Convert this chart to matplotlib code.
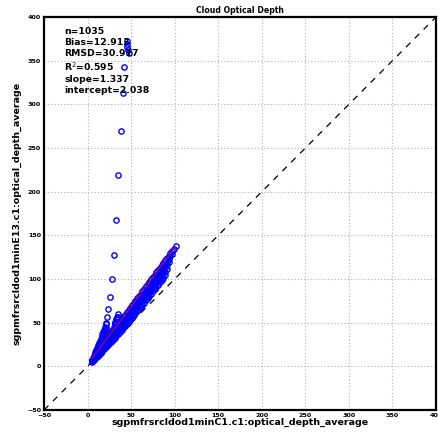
import matplotlib
matplotlib.use("Agg")
import matplotlib.pyplot as plt
import numpy as np

# ---- data ----
band_x_top = [5, 7, 9, 11, 13, 15, 17, 19, 21, 23, 25, 27, 29, 31, 33, 35, 37, 39, 41, 43, 45, 47, 49, 51, 53,
              55, 57, 59, 61, 63, 65, 67, 69, 71, 73, 75, 77, 79, 81, 83, 85, 87, 89, 91, 93, 95, 97, 99, 101]
band_y_top = [7.8, 10.5, 13.2, 15.9, 18.6, 21.3, 24.0, 26.7, 29.4, 32.1, 34.8, 37.5, 40.2, 42.9, 45.6, 48.3, 51.0,
              53.7, 56.4, 59.1, 61.8, 64.5, 67.2, 69.9, 72.6, 75.3, 78.0, 80.7, 83.4, 86.1, 88.8, 91.5, 94.2, 96.9,
              99.6, 102.3, 105.0, 107.7, 110.4, 113.1, 115.8, 118.5, 121.2, 123.9, 126.6, 129.3, 132.0, 134.7, 137.4]

band_x_m1 = [5, 7, 9, 11, 13, 15, 17, 19, 21, 23, 25, 27, 29, 31, 33, 35, 37, 39, 41, 43, 45, 47, 49, 51, 53,
             55, 57, 59, 61, 63, 65, 67, 69, 71, 73, 75, 77, 79, 81, 83, 85, 87, 89, 91, 93, 95, 97]
band_y_m1 = [7.1, 9.7, 12.2, 14.7, 17.3, 19.8, 22.4, 24.9, 27.5, 30.1, 32.7, 35.2, 37.8, 40.4, 43.0, 45.6, 48.2,
             50.8, 53.4, 56.0, 58.6, 61.2, 63.8, 66.4, 69.0, 71.7, 74.3, 76.9, 79.6, 82.2, 84.9, 87.5, 90.2, 92.8,
             95.5, 98.1, 100.8, 103.5, 106.2, 108.9, 111.5, 114.2, 116.9, 120.0, 123.0, 126.0, 129.0]

band_x_m2 = [5, 7, 9, 11, 13, 15, 17, 19, 21, 23, 25, 27, 29, 31, 33, 35, 37, 39, 41, 43, 45, 47, 49, 51, 53,
             55, 57, 59, 61, 63, 65, 67, 69, 71, 73, 75, 77, 79, 81, 83, 85, 87, 89, 91, 93]
band_y_m2 = [6.5, 8.8, 11.2, 13.6, 15.9, 18.4, 20.8, 23.2, 25.6, 28.1, 30.5, 33.0, 35.4, 37.9, 40.4, 42.8, 45.3,
             47.8, 50.3, 52.8, 55.4, 57.9, 60.4, 62.9, 65.5, 68.1, 70.6, 73.2, 75.8, 78.3, 80.9, 83.5, 86.2, 88.8,
             91.4, 94.0, 96.7, 99.3, 102.0, 104.6, 107.3, 110.0, 112.7, 116.5, 120.0]

band_x_m3 = [5, 7, 9, 11, 13, 15, 17, 19, 21, 23, 25, 27, 29, 31, 33, 35, 37, 39, 41, 43, 45, 47, 49, 51, 53,
             55, 57, 59, 61, 63, 65, 67, 69, 71, 73, 75, 77, 79, 81, 83, 85, 87, 89, 91]
band_y_m3 = [5.8, 8.0, 10.2, 12.4, 14.6, 16.9, 19.2, 21.5, 23.7, 26.0, 28.4, 30.7, 33.0, 35.3, 37.7, 40.1, 42.5,
             44.9, 47.3, 49.7, 52.1, 54.5, 57.0, 59.4, 61.9, 64.4, 66.9, 69.4, 71.9, 74.4, 77.0, 79.5, 82.1, 84.7,
             87.2, 89.9, 92.5, 95.1, 97.7, 100.4, 103.0, 105.7, 108.4, 112.0]

band_x_low = [5, 7, 9, 11, 13, 15, 17, 19, 21, 23, 25, 27, 29, 31, 33, 35, 37, 39, 41, 43, 45, 47, 49, 51, 53,
              55, 57, 59, 61, 63, 65, 67, 69, 71, 73, 75, 77, 79, 81, 83, 85, 87, 89]
band_y_low = [5.1, 7.1, 9.2, 11.2, 13.3, 15.4, 17.6, 19.7, 21.8, 24.0, 26.2, 28.4, 30.6, 32.8, 35.1, 37.3, 39.6,
              41.9, 44.2, 46.5, 48.9, 51.2, 53.6, 55.9, 58.3, 60.8, 63.2, 65.6, 68.1, 70.5, 73.0, 75.5, 78.1, 80.6,
              83.1, 85.7, 88.3, 90.9, 93.5, 96.1, 98.7, 101.4, 104.1]

finger1_x = [6, 7, 8, 9, 10, 11, 12, 13, 14, 15, 16, 17, 18, 19, 20, 21]
finger1_y = [9, 11.5, 14, 16.5, 19, 21.5, 24, 26.5, 29, 31.5, 34, 36.5, 39, 41.5, 44.5, 48]
finger1b_x = [8, 10, 12, 14, 16, 18, 20, 22]
finger1b_y = [10.5, 15, 19.5, 24, 28.5, 33, 37.5, 43]
finger1c_x = [7, 9, 11, 13, 15, 17, 19, 21]
finger1c_y = [9.8, 14.6, 19.4, 24.2, 29.0, 33.8, 38.6, 43.4]
finger2_x = [27, 28, 29, 30, 31, 32, 33, 34, 35]
finger2_y = [36, 39, 42, 45, 48, 51, 54, 57, 60]
finger2b_x = [28, 29, 30, 31, 32, 33, 34, 35]
finger2b_y = [36, 39, 42, 45, 48, 51, 54, 57]

outlier_x = [45, 45, 45, 46, 47, 42, 41, 38, 35, 33, 30, 28, 26, 24, 22, 21]
outlier_y = [373, 369, 366, 362, 359, 343, 313, 270, 219, 167, 128, 100, 79, 66, 56, 50]

n_points = 1035
bias = 12.913
rmsd = 30.917
r2 = 0.595
slope = 1.337
intercept = 2.038

x_ticks = [-50, 0, 50, 100, 150, 200, 250, 300, 350, 400]
y_ticks = [-50, 0, 50, 100, 150, 200, 250, 300, 350, 400]

title = "Cloud Optical Depth"
xlabel = "sgpmfrsrcldod1minC1.c1:optical_depth_average"
ylabel = "sgpmfrsrcldod1minE13.c1:optical_depth_average"

# ---- figure ----
fig = plt.figure(figsize=(4.38, 4.33), dpi=100)
ax = fig.add_axes([0.1005, 0.0531, 0.895, 0.9076])

all_x = (band_x_top + band_x_m1 + band_x_m2 + band_x_m3 + band_x_low + finger1_x + finger1b_x
         + finger1c_x + finger2_x + finger2b_x + outlier_x)
all_y = (band_y_top + band_y_m1 + band_y_m2 + band_y_m3 + band_y_low + finger1_y + finger1b_y
         + finger1c_y + finger2_y + finger2b_y + outlier_y)

ax.plot([-50, 400], [-50, 400], color="black", linestyle=(0, (5, 5)), linewidth=0.9, zorder=2)
ax.plot(all_x, all_y, linestyle="none", marker="o", markersize=3.8,
        markerfacecolor="none", markeredgecolor="blue", markeredgewidth=1.0, zorder=3)
xfit = np.array([min(all_x), max(all_x)])
ax.plot(xfit, slope * xfit + intercept, color="red", linewidth=0.6, zorder=4)

ax.set_xlim(-50, 400)
ax.set_ylim(-50, 400)
ax.set_xticks(x_ticks)
ax.set_yticks(y_ticks)
ax.tick_params(direction="in", length=0, labelsize=4.6, pad=2, top=False, right=False)
for lab in ax.get_xticklabels() + ax.get_yticklabels():
    lab.set_fontweight("bold")
ax.grid(True, color="#b0b0b0", linestyle=(0, (1, 2)), linewidth=0.8)
for sp in ax.spines.values():
    sp.set_linewidth(1.6)

ax.set_title(title, fontsize=5.6, fontweight="bold", pad=3)
ax.set_xlabel(xlabel, fontsize=6.8, fontweight="bold", labelpad=0)
ax.set_ylabel(ylabel, fontsize=6.8, fontweight="bold", labelpad=4)

stats = (f"n={n_points}\nBias={bias}\nRMSD={rmsd}\nR$^2$={r2}\n"
         f"slope={slope}\nintercept={intercept}")
ax.text(0.051, 0.975, stats, transform=ax.transAxes, fontsize=6.7, fontweight="bold",
        va="top", ha="left", linespacing=1.27, zorder=5)

fig.savefig("out.png", dpi=100)
